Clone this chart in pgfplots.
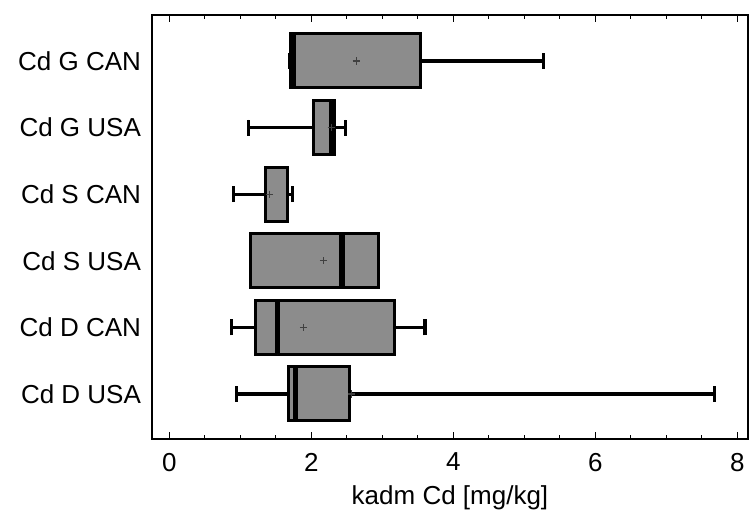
\documentclass[border=0pt]{standalone}
\usepackage{fontspec}
\setmainfont{Liberation Sans}
\usepackage{pgfplots}
\pgfplotsset{compat=1.18}
\usepgfplotslibrary{statistics}
\definecolor{boxgray}{HTML}{8C8C8C}
\definecolor{meangray}{HTML}{404040}

\begin{document}
\begin{tikzpicture}
\begin{axis}[
  scale only axis,
  width=298pt, height=212pt,
  xmin=-0.245, xmax=8.15,
  ymin=0.324, ymax=6.69,
  xtick={0,2,4,6,8},
  minor x tick num=3,
  xtick pos=both,
  ytick={1,2,3,4,5,6},
  yticklabels={Cd D USA, Cd D CAN, Cd S USA, Cd S CAN, Cd G USA, Cd G CAN},
  ytick style={draw=none},
  tick align=inside,
  major tick length=3.4pt,
  minor tick length=2pt,
  xtick style={black, line width=0.6pt},
  axis line style={line width=0.6pt},
  xlabel={kadm Cd [mg/kg]},
  tick label style={font=\fontsize{13}{15}\selectfont},
  xticklabel style={yshift=-3.5pt},
  yticklabel style={xshift=-2pt},
  label style={font=\fontsize{13}{15}\selectfont},
  /pgf/number format/assume math mode=true,
  boxplot/draw direction=x,
  boxplot/whisker extend=0.24,
  boxplot/box extend=0.81,
  boxplot/every median/.style={line width=2.7pt},
  boxplot/every whisker/.style={line width=1.6pt},
  boxplot/every box/.style={line width=1.5pt},
]
% Cd G CAN
\addplot[boxplot prepared={draw position=6, lower whisker=1.70, lower quartile=1.70,
  median=1.74, upper quartile=3.53, upper whisker=5.27},
  fill=boxgray, draw=black, line width=1.5pt] coordinates {};
% Cd G USA
\addplot[boxplot prepared={draw position=5, lower whisker=1.11, lower quartile=2.03,
  median=2.29, upper quartile=2.32, upper whisker=2.48},
  fill=boxgray, draw=black, line width=1.5pt] coordinates {};
% Cd S CAN
\addplot[boxplot prepared={draw position=4, lower whisker=0.90, lower quartile=1.35,
  median=1.36, upper quartile=1.67, upper whisker=1.73},
  fill=boxgray, draw=black, line width=1.5pt,
  boxplot/every median/.style={line width=1.5pt}] coordinates {};
% Cd S USA
\addplot[boxplot prepared={draw position=3, lower whisker=1.14, lower quartile=1.14,
  median=2.43, upper quartile=2.94, upper whisker=2.94},
  fill=boxgray, draw=black, line width=1.5pt] coordinates {};
% Cd D CAN
\addplot[boxplot prepared={draw position=2, lower whisker=0.87, lower quartile=1.21,
  median=1.52, upper quartile=3.17, upper whisker=3.60},
  fill=boxgray, draw=black, line width=1.5pt] coordinates {};
% Cd D USA
\addplot[boxplot prepared={draw position=1, lower whisker=0.95, lower quartile=1.68,
  median=1.78, upper quartile=2.54, upper whisker=7.68},
  fill=boxgray, draw=black, line width=1.5pt] coordinates {};
% means
\addplot[only marks, mark=+, mark size=1.8pt, color=meangray, line width=0.6pt]
  coordinates {(2.63,6) (2.28,5) (1.41,4) (2.17,3) (1.89,2) (2.57,1)};
\end{axis}
\pgfresetboundingbox
\path[use as bounding box] ([shift={(-76pt,-39.5pt)}]current axis.south west)
  rectangle ([shift={(0.5pt,7.5pt)}]current axis.north east);
\end{tikzpicture}
\end{document}
